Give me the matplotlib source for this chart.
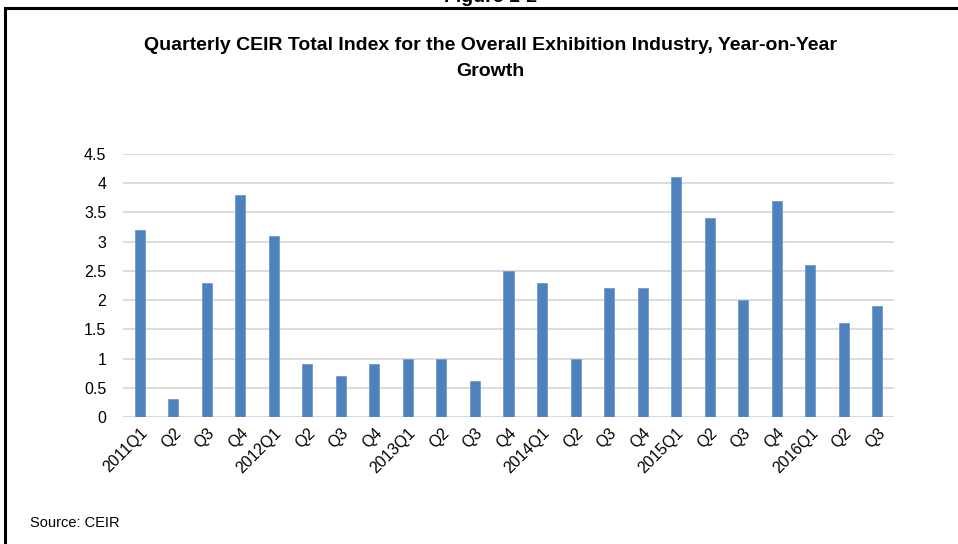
import matplotlib.pyplot as plt
from matplotlib.patches import Rectangle
import numpy as np

plt.rcParams['font.family'] = ['Liberation Sans Narrow', 'Liberation Sans', 'DejaVu Sans']

# quarterly YoY growth
quarters = ['2011Q1', 'Q2', 'Q3', 'Q4',
            '2012Q1', 'Q2', 'Q3', 'Q4',
            '2013Q1', 'Q2', 'Q3', 'Q4',
            '2014Q1', 'Q2', 'Q3', 'Q4',
            '2015Q1', 'Q2', 'Q3', 'Q4',
            '2016Q1', 'Q2', 'Q3']
growth = [3.2, 0.3, 2.3, 3.8,
          3.1, 0.9, 0.7, 0.9,
          1.0, 1.0, 0.62, 2.5,
          2.3, 1.0, 2.2, 2.2,
          4.1, 3.4, 2.0, 3.7,
          2.6, 1.6, 1.9]
yticks = [0, 0.5, 1, 1.5, 2, 2.5, 3, 3.5, 4, 4.5]
ytick_labels = ['0', '0.5', '1', '1.5', '2', '2.5', '3', '3.5', '4', '4.5']

fig = plt.figure(figsize=(9.58, 5.44), dpi=100)
fig.patch.set_facecolor('white')

# outer frame (only left and top visible in the crop)
fig.patches.append(Rectangle((5 / 958, -0.05), 1.1, 1 - 8 / 544 + 0.05,
                             transform=fig.transFigure, fill=False,
                             edgecolor='black', linewidth=2.2, zorder=0))

# heading cut off by the top edge, as in the source
fig.text(491 / 958, 1 + 2 / 544, 'Figure 1-2', ha='center', va='center',
         fontsize=14, fontweight='bold')

ax = fig.add_axes([123 / 958, 1 - 417 / 544, (894 - 123) / 958, (417 - 154) / 544])
x = np.arange(len(quarters))
ax.bar(x, growth, width=0.3, color='#4f81bd', edgecolor='#6f9bd0',
       linewidth=0.6, zorder=3)

ax.set_xlim(-0.5, len(quarters) - 0.5)
ax.set_ylim(0, 4.5)
ax.set_yticks(yticks)
ax.set_yticklabels(ytick_labels, fontsize=11.5)
ax.set_xticks(x)
ax.set_xticklabels(quarters, rotation=45, ha='right', rotation_mode='anchor',
                   fontsize=11.5)
ax.tick_params(axis='both', length=0)
ax.tick_params(axis='y', pad=12)
ax.tick_params(axis='x', pad=6)
ax.grid(axis='y', color='#d9d9d9', linewidth=1.3, zorder=0)
for s in ax.spines.values():
    s.set_visible(False)
ax.axhline(0, color='#d9d9d9', linewidth=1.3, zorder=2)

fig.text(490 / 958, 1 - 45 / 544,
         'Quarterly CEIR Total Index for the Overall Exhibition Industry, Year-on-Year',
         ha='center', va='center', fontsize=14, fontweight='bold')
fig.text(490 / 958, 1 - 72 / 544, 'Growth', ha='center', va='center',
         fontsize=14, fontweight='bold')

fig.text(30 / 958, 1 - 523 / 544, 'Source: CEIR', ha='left', va='center',
         fontsize=10.5)

fig.savefig('out.png', dpi=100)
